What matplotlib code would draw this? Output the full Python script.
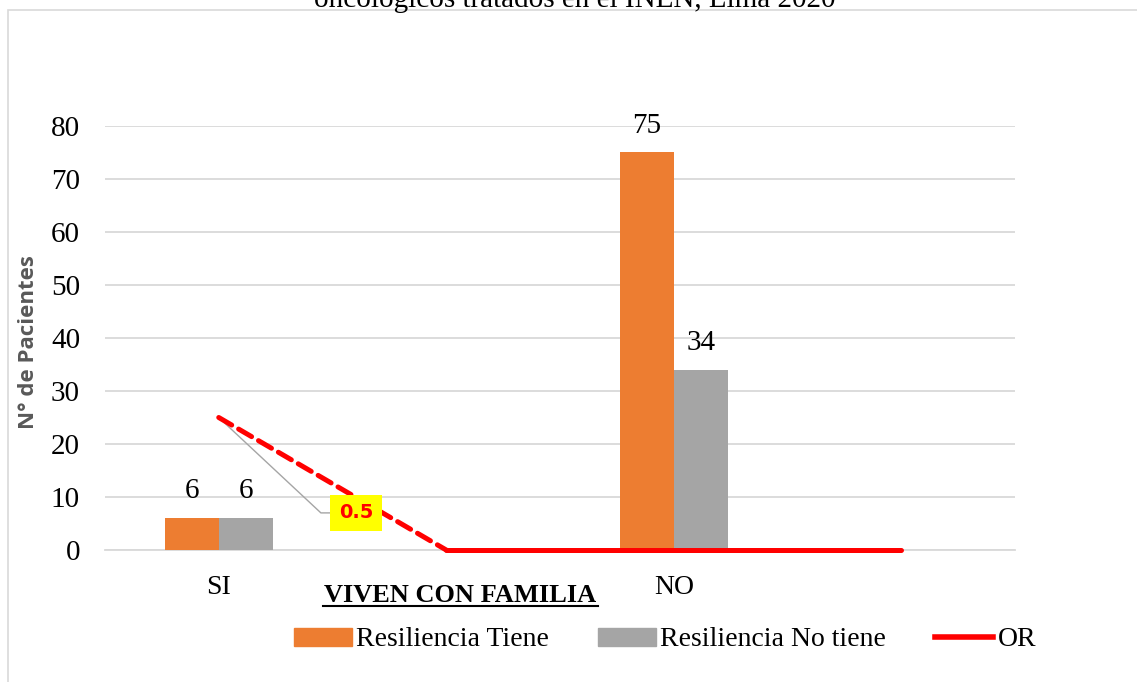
import matplotlib
matplotlib.use("Agg")
import matplotlib.pyplot as plt
from matplotlib.patches import Rectangle
from matplotlib.lines import Line2D
from matplotlib.patches import Patch

categories = ["SI", "", "NO", ""]
tiene = [6, None, 75, None]
no_tiene = [6, None, 34, None]
or_values = [25, 0, 0, 0]
or_label = "0.5"
yticks = [0, 10, 20, 30, 40, 50, 60, 70, 80]

serif = "Liberation Serif"
fig = plt.figure(figsize=(11.37, 6.82), dpi=100)

# chart area border
fig.patches.append(Rectangle((8/1137, -0.01), 1.05, 1 - 10/682 + 0.01, transform=fig.transFigure,
                             fill=False, edgecolor="#d9d9d9", lw=1.2))

fig.text(575/1137, 1 - 7/682, "oncológicos tratados en el INEN, Lima 2020", ha="center", va="baseline",
         fontsize=21, family=serif)

ax = fig.add_axes([105/1137, 1 - 550/682, 910/1137, 424/682])
ax.set_xlim(-0.5, 3.5)
ax.set_ylim(0, 80)

w = 0.237
orange = "#ed7d31"
gray = "#a5a5a5"
for i, v in enumerate(tiene):
    if v is not None:
        ax.bar(i - w/2, v, width=w, color=orange, zorder=3)
        ax.text(i - w/2, v + 2.6, str(v), ha="center", va="bottom", fontsize=21, family=serif)
for i, v in enumerate(no_tiene):
    if v is not None:
        ax.bar(i + w/2, v, width=w, color=gray, zorder=3)
        ax.text(i + w/2, v + 2.6, str(v), ha="center", va="bottom", fontsize=21, family=serif)

# OR line: dashed first segment, solid rest
ax.plot([0, 1], or_values[:2], color="#ff0000", lw=3.6, ls=(0, (3, 1.6)), zorder=4,
        dash_capstyle="round", clip_on=False)
ax.plot(range(1, 4), or_values[1:], color="#ff0000", lw=3.6, zorder=4, solid_capstyle="round",
        clip_on=False)

# data label with leader line
ax.plot([0, 0.449, 0.5], [or_values[0], 7, 7], color="#a5a5a5", lw=1, zorder=3)
ax.text(0.603, 7, or_label, ha="center", va="center", fontsize=14, fontweight="bold",
        color="#ff0000", family="DejaVu Sans",
        bbox=dict(boxstyle="square,pad=0.45", facecolor="#ffff00", edgecolor="none"), zorder=5)

ax.set_yticks(yticks)
ax.set_yticklabels([str(t) for t in yticks], fontsize=21, family=serif)
ax.set_xticks([0, 2])
ax.set_xticklabels(["SI", "NO"], fontsize=20, family=serif)
ax.tick_params(axis="both", length=0)
ax.tick_params(axis="x", pad=18)
ax.tick_params(axis="y", pad=18)
ax.grid(axis="y", color="#d9d9d9", lw=1.3, zorder=0)
for s in ["top", "right", "left"]:
    ax.spines[s].set_visible(False)
ax.spines["bottom"].set_color("#d9d9d9")
ax.spines["bottom"].set_linewidth(1.3)

ax.set_ylabel("N° de Pacientes", fontsize=16, fontweight="bold", color="#595959",
              family="Open Sans")
ax.yaxis.set_label_coords(-66/910, 0.49)

fig.text(460/1137, 1 - 595/682, "VIVEN CON FAMILIA", ha="center", va="center",
         fontsize=19, fontweight="bold", family=serif)
fig.add_artist(Line2D([323/1137, 598/1137], [1 - 606/682, 1 - 606/682], color="black", lw=1.5))

handles = [Patch(color=orange), Patch(color=gray), Line2D([], [], color="#ff0000", lw=4)]
labels = ["Resiliencia Tiene", "Resiliencia No tiene", "OR"]
fig.legend(handles, labels, loc="center", bbox_to_anchor=(665/1137, 1 - 640/682), ncol=3,
           frameon=False, prop={"family": serif, "size": 20}, handlelength=2.1, handleheight=0.6,
           handletextpad=0.15, columnspacing=1.75)

fig.savefig("out.png", dpi=100)
